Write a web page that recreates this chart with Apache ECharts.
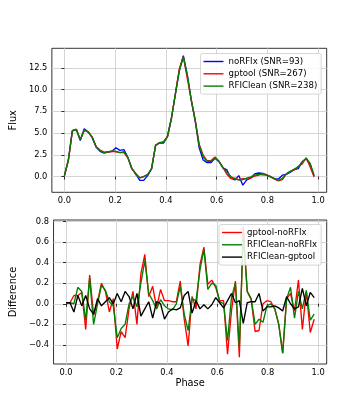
<!DOCTYPE html>
<html>
<head>
<meta charset="utf-8">
<script src="https://cdn.jsdelivr.net/npm/echarts@6/dist/echarts.min.js"></script>
<style>
  html, body { margin: 0; padding: 0; background: #fff; }
  #chart { width: 363px; height: 409px; }
</style>
</head>
<body>
<div id="chart"></div>
<script>
// pulse phase bins
const phase = [0.0000, 0.0156, 0.0313, 0.0469, 0.0625, 0.0781, 0.0938, 0.1094, 0.1250, 0.1406,
  0.1563, 0.1719, 0.1875, 0.2031, 0.2188, 0.2344, 0.2500, 0.2656, 0.2813, 0.2969,
  0.3125, 0.3281, 0.3438, 0.3594, 0.3750, 0.3906, 0.4063, 0.4219, 0.4375, 0.4531,
  0.4688, 0.4844, 0.5000, 0.5156, 0.5313, 0.5469, 0.5625, 0.5781, 0.5938, 0.6094,
  0.6250, 0.6406, 0.6563, 0.6719, 0.6875, 0.7031, 0.7188, 0.7344, 0.7500, 0.7656,
  0.7813, 0.7969, 0.8125, 0.8281, 0.8438, 0.8594, 0.8750, 0.8906, 0.9063, 0.9219,
  0.9375, 0.9531, 0.9688, 0.9844]

// profiles (top panel)
const noRFIx = [0.1, 1.9, 5.25, 5.4, 4.15, 5.5, 5.1, 4.5, 3.4, 2.9,
  2.7, 2.8, 2.9, 3.3, 3.0, 3.1, 2.2, 0.9, 0.3, -0.45,
  -0.45, 0.1, 0.9, 3.6, 3.85, 3.85, 4.6, 6.7, 9.5, 12.2,
  13.9, 11.7, 8.8, 6.4, 3.3, 1.9, 1.6, 1.6, 2.1, 1.7,
  1.0, 0.75, -0.2, -0.4, 0.1, -1.0, -0.4, -0.2, 0.3, 0.4,
  0.35, 0.15, -0.05, -0.25, -0.3, 0.15, 0.25, 0.5, 0.8, 0.9,
  1.7, 2.05, 1.4, 0.1]
const gptool = [0.1, 1.9, 5.3, 5.45, 4.25, 5.3, 5.15, 4.55, 3.45, 3.05,
  2.8, 2.8, 2.9, 2.85, 2.75, 2.75, 2.15, 1.0, 0.2, -0.15,
  0.0, 0.2, 0.95, 3.55, 3.9, 4.0, 4.6, 6.7, 9.5, 12.4,
  13.8, 11.3, 8.85, 6.45, 3.7, 2.45, 1.8, 1.85, 2.25, 1.75,
  1.05, 0.25, -0.25, -0.2, -0.4, -0.25, -0.3, -0.15, 0.05, 0.15,
  0.35, 0.2, 0.0, -0.3, -0.5, -0.35, 0.3, 0.6, 0.75, 1.15,
  1.45, 2.15, 1.1, -0.05]
const rfiClean = [0.1, 1.9, 5.25, 5.4, 4.2, 5.35, 5.1, 4.5, 3.4, 2.95,
  2.75, 2.85, 2.9, 2.9, 2.75, 2.85, 2.2, 0.9, 0.35, -0.15,
  -0.05, 0.25, 0.9, 3.6, 3.9, 3.9, 4.6, 6.7, 9.5, 12.2,
  13.75, 11.7, 8.8, 6.5, 3.6, 2.25, 1.75, 1.75, 2.15, 1.75,
  1.0, 0.5, 0.0, -0.3, -0.4, -0.35, -0.2, -0.05, 0.15, 0.25,
  0.2, 0.15, -0.05, -0.25, -0.45, -0.2, 0.3, 0.6, 0.85, 1.1,
  1.7, 2.1, 1.5, 0.1]

// differences (bottom panel)
const gptoolMinusNoRFIx = [0.01, 0.01, 0.08, 0.08, 0.11, -0.25, 0.28, -0.11, 0.02, 0.2,
  0.12, -0.08, 0.05, -0.44, -0.27, -0.33, -0.05, 0.12, -0.2, 0.29,
  0.48, 0.07, 0.17, -0.04, 0.14, 0.03, 0.03, 0.02, 0.02, 0.22,
  -0.15, -0.41, 0.07, -0.05, 0.38, 0.55, 0.19, 0.23, 0.16, 0.03,
  0.03, -0.49, -0.07, 0.22, -0.52, 0.75, 0.12, 0.04, -0.27, -0.26,
  0.0, 0.03, 0.02, -0.05, -0.2, -0.48, 0.05, 0.1, -0.07, 0.23,
  -0.25, 0.12, -0.28, -0.15]
const rfiCleanMinusNoRFIx = [0.01, 0.01, 0.0, 0.16, 0.12, -0.16, 0.25, -0.2, 0.0, 0.18,
  0.13, 0.02, -0.02, -0.33, -0.24, -0.2, 0.0, 0.07, -0.03, 0.2,
  0.42, 0.1, 0.03, -0.05, 0.04, -0.02, -0.05, -0.06, 0.0, 0.17,
  -0.1, -0.26, 0.05, 0.03, 0.33, 0.53, 0.14, 0.2, 0.18, 0.02,
  0.0, -0.36, 0.06, 0.2, -0.42, 0.68, 0.12, 0.05, -0.2, -0.15,
  -0.18, -0.02, 0.0, -0.05, -0.2, -0.48, 0.05, 0.16, -0.14, 0.12,
  -0.05, 0.13, -0.16, -0.1]
const rfiCleanMinusGptool = [0.01, 0.01, -0.08, 0.08, -0.02, 0.08, -0.05, -0.1, 0.05, -0.02,
  0.02, 0.06, 0.0, 0.1, 0.02, 0.12, 0.07, -0.05, 0.1, -0.12,
  -0.05, 0.02, -0.14, 0.02, 0.0, -0.15, -0.08, -0.05, -0.06, -0.04,
  0.08, 0.12, -0.09, 0.03, -0.05, -0.01, -0.05, -0.01, 0.06, 0.01,
  -0.04, 0.03, 0.1, 0.01, 0.03, -0.19, 0.01, 0.02, 0.02, 0.1,
  -0.07, -0.03, -0.03, -0.02, -0.04, -0.07, 0.07, 0.0, -0.05, -0.03,
  0.15, -0.02, 0.11, 0.06]

const xTicks = [0, 0.2, 0.4, 0.6, 0.8, 1.0]
const fluxTicks = [0, 2.5, 5, 7.5, 10, 12.5]
const diffTicks = [-0.4, -0.2, 0, 0.2, 0.4, 0.6, 0.8]

const FONT = 'DejaVu Sans'
const pairs = ys => ys.map((v, i) => [phase[i], v])

const onTick = (v, ticks) => ticks.some(t => Math.abs(t - v) < 1e-6)
const fmt = v => v.toFixed(1).replace('-', '\u2212')

const axisCommon = (ticks, step) => ({
  type: 'value',
  minInterval: step,
  maxInterval: step,
  axisLine: { show: false },
  axisTick: {
    show: true, length: 3, customValues: ticks,
    lineStyle: { color: '#000', width: 0.8 }
  },
  axisLabel: {
    color: '#000', fontFamily: FONT, fontSize: 8.3, margin: 4.5,
    customValues: ticks,
    formatter: v => onTick(v, ticks) ? fmt(v) : ''
  },
  splitLine: { show: true, lineStyle: { color: '#d0d0d0', width: 0.9 } }
})

const nameStyle = { color: '#000', fontFamily: FONT, fontSize: 9.8 }

const legendCommon = {
  orient: 'vertical',
  icon: 'rect',
  itemWidth: 20,
  itemHeight: 1.4,
  itemGap: 2.3,
  padding: [3, 4, 3, 3],
  backgroundColor: 'rgba(255,255,255,0.85)',
  borderColor: '#cccccc',
  borderWidth: 0.8,
  borderRadius: 2,
  textStyle: { color: '#000', fontFamily: FONT, fontSize: 8.6, lineHeight: 10 }
}

const line = (name, data, color, xi) => ({
  name, type: 'line', data: pairs(data),
  xAxisIndex: xi, yAxisIndex: xi,
  symbol: 'none', animation: false,
  lineStyle: { color, width: 1.35 },
  itemStyle: { color }
})

const chart = echarts.init(document.getElementById('chart'))
chart.setOption({
  backgroundColor: '#fff',
  animation: false,
  grid: [
    { left: 45, top: 48.3, width: 281.7, height: 144, show: true, borderColor: '#000', borderWidth: 0.8 },
    { left: 45, top: 220, width: 281.7, height: 144, show: true, borderColor: '#000', borderWidth: 0.8 }
  ],
  legend: [
    Object.assign({}, legendCommon, {
      left: 200.5, top: 53.5,
      data: ['noRFIx (SNR=93)', 'gptool (SNR=267)', 'RFIClean (SNR=238)']
    }),
    Object.assign({}, legendCommon, {
      left: 219, top: 224.5,
      data: ['gptool-noRFIx', 'RFIClean-noRFIx', 'RFIClean-gptool']
    })
  ],
  xAxis: [
    Object.assign(axisCommon(xTicks, 0.2), { gridIndex: 0, min: -0.0495, max: 1.034 }),
    Object.assign(axisCommon(xTicks, 0.2), {
      gridIndex: 1, min: -0.0495, max: 1.034,
      name: 'Phase', nameLocation: 'middle', nameGap: 14, nameTextStyle: nameStyle
    })
  ],
  yAxis: [
    Object.assign(axisCommon(fluxTicks, 2.5), {
      gridIndex: 0, min: -1.82, max: 14.75,
      name: 'Flux', nameLocation: 'middle', nameGap: 23.5, nameTextStyle: nameStyle
    }),
    Object.assign(axisCommon(diffTicks, 0.2), {
      gridIndex: 1, min: -0.586, max: 0.815,
      name: 'Difference', nameLocation: 'middle', nameGap: 28, nameTextStyle: nameStyle
    })
  ],
  series: [
    line('noRFIx (SNR=93)', noRFIx, '#0000ff', 0),
    line('gptool (SNR=267)', gptool, '#ff0000', 0),
    line('RFIClean (SNR=238)', rfiClean, '#008000', 0),
    line('gptool-noRFIx', gptoolMinusNoRFIx, '#ff0000', 1),
    line('RFIClean-noRFIx', rfiCleanMinusNoRFIx, '#008000', 1),
    line('RFIClean-gptool', rfiCleanMinusGptool, '#000000', 1)
  ]
})
</script>
</body>
</html>
